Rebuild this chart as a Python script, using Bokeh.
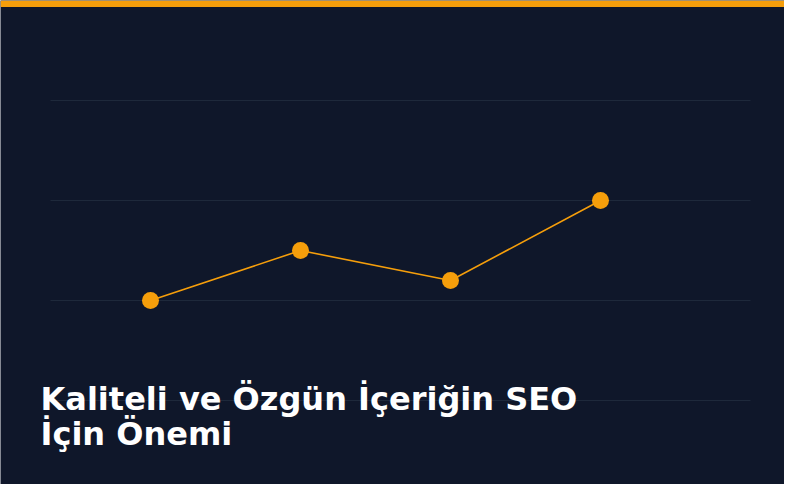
from bokeh.plotting import figure
from bokeh.models import Range1d, BoxAnnotation, Label
from bokeh.embed import file_html
from bokeh.resources import INLINE

# data
x_idx = [1, 2, 3, 4]
values = [20, 30, 24, 40]
grid_values = [0, 20, 40, 60]
title_lines = ["Kaliteli ve Özgün İçeriğin SEO", "İçin Önemi"]

BG = "#0f172a"
ORANGE = "#f59e0b"
GRID = "#1e293b"

W, H = 784, 484
p = figure(width=W, height=H, output_backend="svg", toolbar_location=None,
           x_range=Range1d(0, W / 150), y_range=Range1d(80 - H / 5, 80),
           min_border=0, background_fill_color=BG, border_fill_color=BG,
           outline_line_color=None)
p.axis.visible = False
p.grid.visible = False

# top accent bar
p.add_layout(BoxAnnotation(bottom=78.7, fill_color=ORANGE, fill_alpha=1, line_color=None))

# grid lines (limited extent)
gx0 = x_idx[0] - 2 / 3
gx1 = x_idx[-1] + 1
p.segment(x0=[gx0] * len(grid_values), x1=[gx1] * len(grid_values),
          y0=grid_values, y1=grid_values, line_color=GRID, line_width=1.2)

p.line(x_idx, values, line_color=ORANGE, line_width=1.6)
p.scatter(x_idx, values, size=17, fill_color=ORANGE, line_color=None)

p.add_layout(Label(x=40, y=86, x_units="screen", y_units="screen", text=title_lines[0],
                   text_font="DejaVu Sans", text_font_style="bold", text_font_size="32px",
                   text_color="white", text_baseline="alphabetic"))
p.add_layout(Label(x=40, y=51, x_units="screen", y_units="screen", text=title_lines[1],
                   text_font="DejaVu Sans", text_font_style="bold", text_font_size="32px",
                   text_color="white", text_baseline="alphabetic"))

open("out.html", "w").write(file_html(p, INLINE))
